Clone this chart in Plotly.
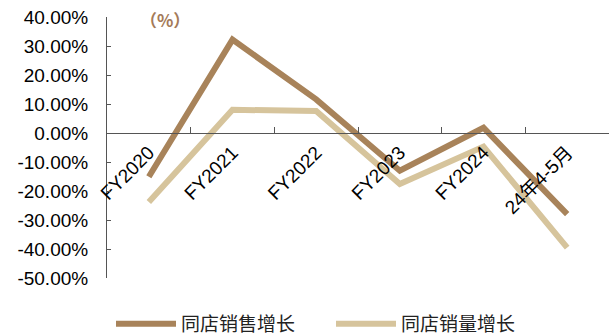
import plotly.graph_objects as go

# Periods on the category axis
categories = ["FY2020", "FY2021", "FY2022", "FY2023", "FY2024", "24年4-5月"]

# Same-store growth, in percent
same_store_sales = [-15.1, 32.2, 11.6, -13.0, 1.8, -28.0]
same_store_volume = [-23.8, 8.0, 7.6, -17.6, -4.7, -39.5]

y_ticks = [40, 30, 20, 10, 0, -10, -20, -30, -40, -50]
y_tick_labels = [f"{v:.2f}%" for v in y_ticks]

brown = "#a8835a"
beige = "#d6c49c"
font_main = "Arial, Liberation Sans, Noto Sans CJK SC, sans-serif"
font_cjk = "Noto Sans CJK SC, sans-serif"

y_min, y_max = -50, 40
plot_h = 278 - 17

fig = go.Figure()
fig.add_trace(go.Scatter(
    x=categories, y=same_store_sales, mode="lines", name="同店销售增长",
    line=dict(color=brown, width=6),
))
fig.add_trace(go.Scatter(
    x=categories, y=same_store_volume, mode="lines", name="同店销量增长",
    line=dict(color=beige, width=6),
))

fig.update_layout(
    width=609, height=336,
    margin=dict(l=107, r=0, t=17, b=58, autoexpand=False),
    paper_bgcolor="white", plot_bgcolor="white",
    showlegend=True,
    legend=dict(
        orientation="h", x=(331 - 107) / 502, xanchor="center",
        y=(278 - 324) / plot_h, yanchor="middle",
        font=dict(family=font_cjk, size=19, color="#222222"),
        itemwidth=60, entrywidth=145, tracegroupgap=0,
    ),
    annotations=[dict(
        text="<b>（%）</b>", xref="paper", yref="paper",
        x=(165 - 107) / 502, y=(278 - 20) / plot_h,
        xanchor="center", yanchor="middle", showarrow=False,
        font=dict(family=font_cjk, size=17, color="#a47a58"),
    )],
)

fig.update_xaxes(
    type="category", range=[-0.5, 5.5],
    anchor="free", position=(0 - y_min) / (y_max - y_min),
    showline=True, linecolor="#555555", linewidth=1,
    ticks="inside", tickson="boundaries", ticklen=6, tickcolor="#555555",
    tickangle=-45, showgrid=False, zeroline=False,
    tickfont=dict(family=font_main, size=19, color="black"),
)
fig.update_yaxes(
    range=[y_min, y_max], tickvals=y_ticks, ticktext=y_tick_labels,
    showline=True, linecolor="#555555", linewidth=1,
    ticks="inside", ticklen=4, tickcolor="#555555",
    ticklabelstandoff=14, showgrid=False, zeroline=False,
    tickfont=dict(family=font_main, size=19, color="black"),
)

fig.write_html("out.html")
